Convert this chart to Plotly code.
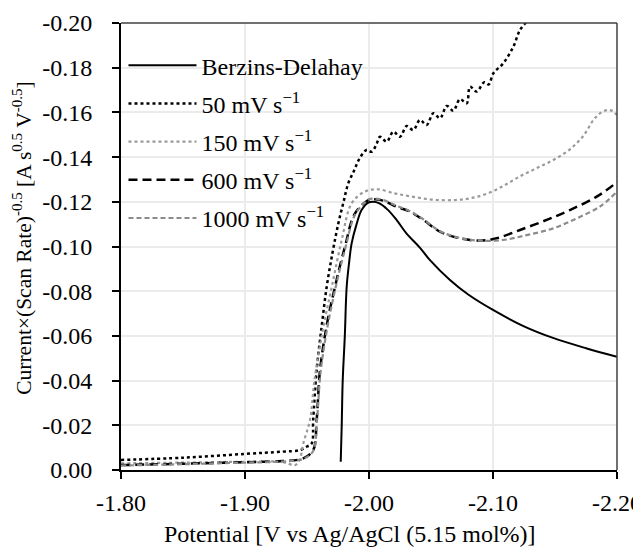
import plotly.graph_objects as go

# ---------------- data ----------------
bd_x = [-1.9772, -1.9780, -1.9788, -1.9805, -1.9820, -1.9840, -1.9860, -1.9900, -1.9940, -1.9990,
        -2.0035, -2.0080, -2.0150, -2.0222, -2.0300, -2.0410, -2.0490, -2.0653, -2.0800, -2.1000,
        -2.1250, -2.1484, -2.1750, -2.2000]
bd_y = [-0.0037, -0.0200, -0.0400, -0.0600, -0.0820, -0.0930, -0.1014, -0.1100, -0.1163, -0.1195,
        -0.1200, -0.1194, -0.1165, -0.1119, -0.1060, -0.0995, -0.0940, -0.0850, -0.0785, -0.0716,
        -0.0643, -0.0591, -0.0545, -0.0507]

s50_x = [-1.8000, -1.8500, -1.9000, -1.9300, -1.9444, -1.9500, -1.9538, -1.9550, -1.9578, -1.9620,
         -1.9659, -1.9705, -1.9753, -1.9795, -1.9833, -1.9880, -1.9920, -1.9980, -2.0022, -2.0062,
         -2.0089, -2.0143, -2.0196, -2.0250, -2.0304, -2.0357, -2.0411, -2.0465, -2.0519, -2.0573,
         -2.0627, -2.0680, -2.0734, -2.0788, -2.0815, -2.0868, -2.0930, -2.0965, -2.1003, -2.1083,
         -2.1164, -2.1218, -2.1280]
s50_y = [-0.0045, -0.0055, -0.0072, -0.0082, -0.0089, -0.0105, -0.0119, -0.0224, -0.0447, -0.0650,
         -0.0820, -0.0970, -0.1104, -0.1200, -0.1283, -0.1340, -0.1390, -0.1432, -0.1424, -0.1460,
         -0.1491, -0.1469, -0.1514, -0.1491, -0.1539, -0.1521, -0.1566, -0.1544, -0.1596, -0.1574,
         -0.1629, -0.1608, -0.1659, -0.1641, -0.1715, -0.1693, -0.1735, -0.1725, -0.1775, -0.1820,
         -0.1894, -0.1969, -0.2010]

s150_x = [-1.8000, -1.8500, -1.9000, -1.9300, -1.9403, -1.9440, -1.9470, -1.9524, -1.9560, -1.9625,
          -1.9700, -1.9780, -1.9860, -1.9968, -2.0075, -2.0200, -2.0280, -2.0410, -2.0550, -2.0700,
          -2.0820, -2.0950, -2.1080, -2.1220, -2.1350, -2.1486, -2.1620, -2.1728, -2.1810, -2.1863,
          -2.1917, -2.1957, -2.2000]
s150_y = [-0.0030, -0.0033, -0.0037, -0.0036, -0.0022, -0.0045, -0.0119, -0.0224, -0.0400, -0.0620,
          -0.0820, -0.1029, -0.1193, -0.1246, -0.1256, -0.1238, -0.1230, -0.1217, -0.1208, -0.1208,
          -0.1216, -0.1236, -0.1270, -0.1315, -0.1350, -0.1387, -0.1435, -0.1495, -0.1566, -0.1596,
          -0.1610, -0.1608, -0.1588]

s600_x = [-1.8000, -1.8500, -1.9000, -1.9300, -1.9470, -1.9550, -1.9578, -1.9605, -1.9660, -1.9726,
          -1.9806, -1.9887, -1.9995, -2.0035, -2.0115, -2.0222, -2.0330, -2.0438, -2.0573, -2.0734,
          -2.0895, -2.1030, -2.1218, -2.1433, -2.1620, -2.1836, -2.1970, -2.2000]
s600_y = [-0.0022, -0.0028, -0.0035, -0.0040, -0.0052, -0.0089, -0.0224, -0.0447, -0.0650, -0.0820,
          -0.0999, -0.1148, -0.1208, -0.1211, -0.1205, -0.1178, -0.1156, -0.1119, -0.1066, -0.1037,
          -0.1026, -0.1037, -0.1074, -0.1119, -0.1163, -0.1223, -0.1275, -0.1290]

s1000_x = [-1.8000, -1.8500, -1.9000, -1.9300, -1.9470, -1.9550, -1.9580, -1.9610, -1.9665, -1.9730,
           -1.9810, -1.9890, -1.9995, -2.0040, -2.0115, -2.0222, -2.0330, -2.0438, -2.0573, -2.0734,
           -2.0895, -2.1080, -2.1272, -2.1486, -2.1675, -2.1860, -2.2000]
s1000_y = [-0.0020, -0.0026, -0.0033, -0.0038, -0.0050, -0.0085, -0.0220, -0.0440, -0.0640, -0.0815,
           -0.0995, -0.1145, -0.1210, -0.1214, -0.1208, -0.1182, -0.1158, -0.1122, -0.1068, -0.1038,
           -0.1026, -0.1029, -0.1051, -0.1081, -0.1126, -0.1178, -0.1245]

x_ticks = [-1.80, -1.90, -2.00, -2.10, -2.20]
x_ticktext = ["-1.80", "-1.90", "-2.00", "-2.10", "-2.20"]
y_ticks = [0.00, -0.02, -0.04, -0.06, -0.08, -0.10, -0.12, -0.14, -0.16, -0.18, -0.20]
y_ticktext = ["0.00", "-0.02", "-0.04", "-0.06", "-0.08", "-0.10", "-0.12", "-0.14", "-0.16", "-0.18", "-0.20"]

names = ["Berzins-Delahay", "50 mV s<sup>\u22121</sup>", "150 mV s<sup>\u22121</sup>",
         "600 mV s<sup>\u22121</sup>", "1000 mV s<sup>\u22121</sup>"]

FONT = "Liberation Serif, Times New Roman, serif"
FS = 24

fig = go.Figure()
series = [
    (bd_x, bd_y, dict(color="black", width=2, dash="solid")),
    (s50_x, s50_y, dict(color="black", width=2.5, dash="dot")),
    (s150_x, s150_y, dict(color="#9a9a9a", width=2.2, dash="dot")),
    (s600_x, s600_y, dict(color="black", width=2.5, dash="9px,5px")),
    (s1000_x, s1000_y, dict(color="#8c8c8c", width=2.2, dash="5px,3px")),
]
for i, (xs, ys, ln) in enumerate(series):
    fig.add_trace(go.Scatter(x=xs, y=ys, mode="lines", name=names[i], line=ln,
                             legendgroup=f"g{i}", line_shape="spline"))

axis_common = dict(
    showgrid=True, gridcolor="#ebebeb", gridwidth=1.5, zeroline=False,
    showline=True, linecolor="black", linewidth=2,
    ticks="outside", ticklen=7, tickwidth=2, tickcolor="black",
    tickfont=dict(family=FONT, size=FS, color="black"),
)

# page body has an 8px default margin, so the figure is 633x540 drawn at (8, 8)
fig.update_layout(
    width=633, height=540,
    margin=dict(l=113, r=24, t=15, b=78, autoexpand=False),
    paper_bgcolor="white", plot_bgcolor="white",
    font=dict(family=FONT, size=FS, color="black"),
    xaxis=dict(range=[-1.80, -2.20], tickvals=x_ticks, ticktext=x_ticktext,
               ticklabelstandoff=3, ticklabeloverflow="allow", **axis_common),
    yaxis=dict(range=[0.0, -0.20], tickvals=y_ticks, ticktext=y_ticktext,
               ticklabelstandoff=15, **axis_common),
    showlegend=True,
    legend=dict(x=0.005, y=0.955, xanchor="left", yanchor="top", bgcolor="rgba(0,0,0,0)",
                borderwidth=0, itemwidth=68, tracegroupgap=4,
                font=dict(family=FONT, size=FS, color="black")),
    shapes=[
        dict(type="line", xref="paper", yref="paper", x0=0, x1=1, y0=1, y1=1,
             line=dict(color="#404040", width=1.5)),
        dict(type="line", xref="paper", yref="paper", x0=1, x1=1, y0=0, y1=1,
             line=dict(color="#404040", width=1.5)),
    ],
    annotations=[
        dict(text="Potential [V vs Ag/AgCl (5.15 mol%)]", xref="paper", yref="paper",
             x=0.4617, y=-0.143, xanchor="center", yanchor="middle", showarrow=False,
             font=dict(family=FONT, size=24, color="black")),
        dict(text="Current\u00d7(Scan Rate)<sup>-0.5</sup> [A s<sup>0.5</sup> V<sup>-0.5</sup>]",
             xref="paper", yref="paper", x=-0.200, y=0.519, xanchor="center", yanchor="middle",
             textangle=-90, showarrow=False, font=dict(family=FONT, size=21.5, color="black")),
    ],
)

fig.write_html("out.html")
